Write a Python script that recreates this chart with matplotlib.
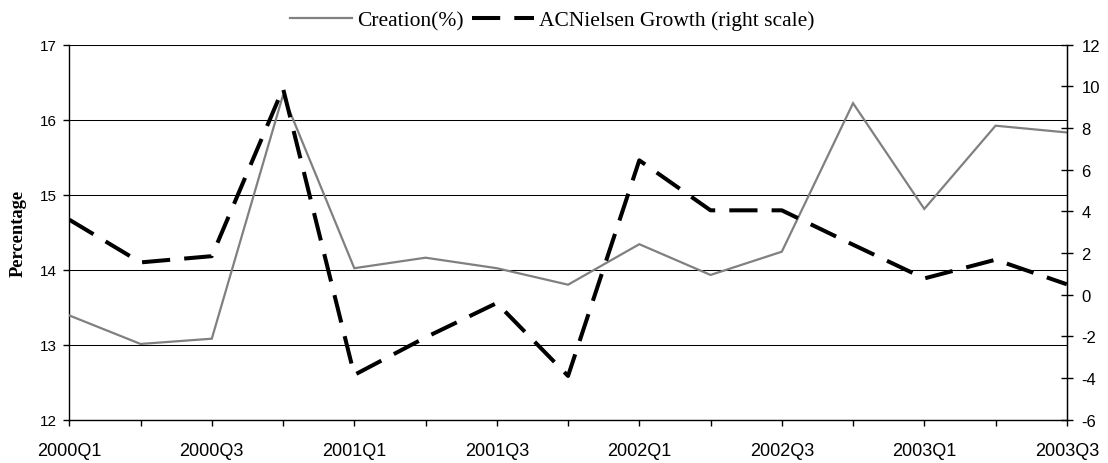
import matplotlib
matplotlib.use('Agg')
import matplotlib.pyplot as plt

plt.rcParams['axes.unicode_minus'] = False

quarters = ['2000Q1', '2000Q2', '2000Q3', '2000Q4',
            '2001Q1', '2001Q2', '2001Q3', '2001Q4',
            '2002Q1', '2002Q2', '2002Q3', '2002Q4',
            '2003Q1', '2003Q2', '2003Q3']
creation = [13.39, 13.01, 13.08, 16.33, 14.02, 14.16, 14.02, 13.80,
            14.34, 13.93, 14.24, 16.22, 14.81, 15.92, 15.83]
acnielsen = [3.6, 1.55, 1.85, 9.9, -3.85, -2.05, -0.4, -3.9,
             6.45, 4.05, 4.05, 2.4, 0.78, 1.68, 0.5]

left_ticks = [12, 13, 14, 15, 16, 17]
right_ticks = [-6, -4, -2, 0, 2, 4, 6, 8, 10, 12]

fig = plt.figure(figsize=(11.08, 4.64), dpi=100)
ax = fig.add_axes([69.3 / 1108, 1 - 420.7 / 464, (1066.8 - 69.3) / 1108, 375 / 464])
ax2 = ax.twinx()

x = list(range(len(quarters)))
l1, = ax.plot(x, creation, color='#808080', lw=1.6, solid_joinstyle='miter', zorder=3)
l2, = ax2.plot(x, acnielsen, color='black', lw=2.9, dashes=(7, 3.5),
               dash_capstyle='butt', zorder=3)

ax.set_xlim(0, len(quarters) - 1)
ax.set_ylim(12, 17)
ax2.set_ylim(-6, 12)
ax.set_yticks(left_ticks)
ax2.set_yticks(right_ticks)
ax.set_xticks(x)
ax.set_xticklabels([q if i % 2 == 0 else '' for i, q in enumerate(quarters)],
                   fontname='Liberation Sans', fontsize=13)
for lab in ax.get_yticklabels():
    lab.set_fontname('Liberation Sans')
    lab.set_fontsize(11)
for lab in ax2.get_yticklabels():
    lab.set_fontname('Liberation Sans')
    lab.set_fontsize(12)

ax.grid(axis='y', color='black', lw=0.75)
ax.set_axisbelow(True)
for a in (ax, ax2):
    a.spines['top'].set_visible(False)
ax2.spines['left'].set_visible(False)
ax2.spines['bottom'].set_visible(False)
for s in ('left', 'bottom'):
    ax.spines[s].set_linewidth(1.0)
ax2.spines['right'].set_linewidth(1.0)

ax.tick_params(axis='y', direction='out', length=4, width=1, pad=5)
ax.tick_params(axis='x', direction='out', length=4, width=1, pad=12)
ax2.tick_params(axis='y', direction='inout', length=9, width=1, pad=6)

ax.set_ylabel('Percentage', fontname='Liberation Serif', fontweight='bold', fontsize=13.3)
ax.yaxis.set_label_coords(-0.0424, 0.5)

fig.legend([l1, l2], ['Creation(%)', 'ACNielsen Growth (right scale)'],
           loc='center', bbox_to_anchor=(552 / 1108, 1 - 21 / 464), ncol=2,
           frameon=False, prop={'family': 'Liberation Serif', 'size': 15.5},
           handlelength=2.87, handletextpad=0.23, columnspacing=0.4,
           borderpad=0, borderaxespad=0)

fig.savefig('out.png', dpi=100)
